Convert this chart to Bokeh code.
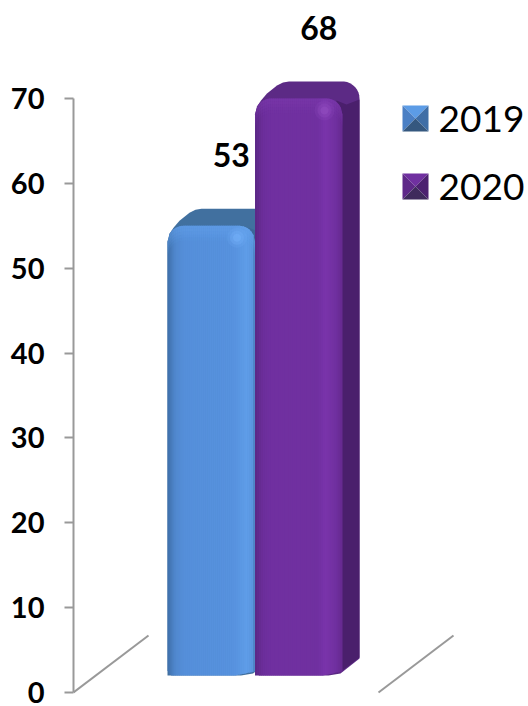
import math
from bokeh.plotting import figure
from bokeh.models import Range1d, FixedTicker
from bokeh.core.properties import value
from bokeh.embed import file_html
from bokeh.resources import INLINE

categories = ["2019", "2020"]
values = [53, 68]
y_ticks = [0, 10, 20, 30, 40, 50, 60, 70]

# colour stops: (fraction across the front face, colour)
profiles = [
    [(0, "#3f6fa9"), (0.09, "#5088cf"), (0.2, "#558fda"), (0.75, "#5792df"), (0.9, "#5f9de8"), (0.97, "#5a96e0"), (1, "#4a7cb8")],
    [(0, "#5b2885"), (0.09, "#6c2e9b"), (0.2, "#7030a0"), (0.72, "#7030a0"), (0.8, "#7a34ab"), (0.92, "#7030a0"), (1, "#66298f")],
]
top_colors = ["#41709f", "#5c2a85"]
side_colors = ["#3c6898", "#4a1f6c"]
bevel_colors = ["#66a4ee", "#7f3bb0"]
glow_colors = ["#7ab8ff", "#9a55c8"]
swatch_colors = [
    ["#5c9ce6", "#4a7fc4", "#3f6ea6", "#35587f"],
    ["#7030a0", "#5e2888", "#4c2170", "#3f2a5c"],
]

PX_X, PX_Y = 87.5, 8.486   # pixels per data unit
W, H = 528, 706
LEFT, BOTTOM = 73, 14
x0_page = 167
x_start = -(x0_page - LEFT) / PX_X
x_end = x_start + (W - LEFT) / PX_X
y_start = -BOTTOM / PX_Y
y_end = (H - BOTTOM) / PX_Y

p = figure(width=W, height=H, output_backend="svg", toolbar_location=None,
           x_range=Range1d(x_start, x_end), y_range=Range1d(y_start, y_end),
           min_border_left=LEFT, min_border_right=0, min_border_top=0, min_border_bottom=0,
           outline_line_color=None, background_fill_color="white", border_fill_color="white")
p.grid.visible = False
p.xaxis.visible = False
ax = p.yaxis[0]
ax.ticker = FixedTicker(ticks=y_ticks)
ax.bounds = (0, 70)
ax.axis_line_color = "#999999"
ax.axis_line_width = 2
ax.major_tick_line_color = "#999999"
ax.major_tick_line_width = 2
ax.major_tick_out = 9
ax.major_tick_in = 0
ax.minor_tick_line_color = None
ax.major_label_text_font = "Lato"
ax.major_label_text_font_style = "bold"
ax.major_label_text_font_size = "29px"
ax.major_label_text_color = "black"
ax.major_label_standoff = 20


def dx(px):
    return px / PX_X


def dy(px):
    return px / PX_Y


def arc(cx, cy, r, a0, a1, n=8):
    return [(cx + r * math.cos(math.radians(a0 + (a1 - a0) * k / n)),
             cy + r * math.sin(math.radians(a0 + (a1 - a0) * k / n))) for k in range(n + 1)]


def poly(pts, color):
    p.patch([dx(a) for a, b in pts], [dy(b) for a, b in pts], fill_color=color, line_color=None)


def hex2rgb(c):
    return tuple(int(c[i:i + 2], 16) for i in (1, 3, 5))


def mix(stops, t):
    for (t0, c0), (t1, c1) in zip(stops, stops[1:]):
        if t <= t1:
            f = (t - t0) / (t1 - t0)
            a, b = hex2rgb(c0), hex2rgb(c1)
            return "#%02x%02x%02x" % tuple(round(a[k] + (b[k] - a[k]) * f) for k in range(3))
    return stops[-1][1]


# drawn in pixels relative to the bar's lower-left data corner
FW, DX, DY, R, RB = PX_X, 17, 18, 16, 5
base_px = 2 * PX_Y

for i, (cat, val) in enumerate(zip(categories, values)):
    x_px = i * PX_X
    h = val * PX_Y
    b, t = base_px, base_px + h
    # top and side silhouette
    sil = [(x_px, t - R), (x_px + 2, t - 8), (x_px + 6, t - 2), (x_px + 12, t + 5),
           (x_px + 22, t + 13), (x_px + 28, t + DY - 2), (x_px + 34, t + DY - 1), (x_px + FW - 2, t + DY - 1)]
    sil += arc(x_px + FW + DX - 17, t + DY - 18, 17, 85, 0)
    sil += [(x_px + FW + DX, b + DY - 1), (x_px + FW - 2, b + 2), (x_px + FW - 14, b)]
    sil += [(x_px, b)]
    poly(sil, top_colors[i])
    side = [(x_px + FW - 6, t - 2), (x_px + FW + 4, t - 6), (x_px + FW + DX, t - 1), (x_px + FW + DX, b + DY),
            (x_px + FW, b + 5), (x_px + FW - 8, b + 2)]
    poly(side, side_colors[i])

    # front face, one thin column at a time
    n = 44
    for k in range(n):
        f0, f1 = k / n, (k + 1) / n
        xa = f0 * FW
        xb = min(f1 * FW + 0.6, FW)

        def top_at(x):
            e = t
            if x < R:
                e = t - R + math.sqrt(max(R * R - (R - x) ** 2, 0))
            if x > FW - R:
                e = t - R + math.sqrt(max(R * R - (x - FW + R) ** 2, 0))
            return e

        def bot_at(x):
            e = b
            if x < RB:
                e = b + RB - math.sqrt(max(RB * RB - (RB - x) ** 2, 0))
            if x > FW - 20:
                e = b + 4 * (x - FW + 20) / 20
            return e

        col = mix(profiles[i], (f0 + f1) / 2)
        poly([(x_px + xa, bot_at(xa)), (x_px + xb, bot_at(xb)),
              (x_px + xb, top_at(xb)), (x_px + xa, top_at(xa))], col)
        # lit bevel along the top edge
        for row, alpha in ((0, 0.45), (3, 0.4), (6, 0.3), (9, 0.2), (12, 0.1)):
            ya = top_at(xa) - row
            yb = top_at(xb) - row
            p.patch([dx(x_px + xa), dx(x_px + xb), dx(x_px + xb), dx(x_px + xa)],
                    [dy(ya - 3), dy(yb - 3), dy(yb), dy(ya)],
                    fill_color=bevel_colors[i], fill_alpha=alpha, line_color=None)
    # glow near the top right corner of the front face
    gx, gy = x_px + FW - 18, t - 12
    for r, alpha in ((10, 0.15), (7, 0.25), (4, 0.35)):
        pts = arc(gx, gy, r, 0, 360, 20)
        p.patch([dx(a) for a, c in pts], [dy(c) for a, c in pts],
                fill_color=glow_colors[i], fill_alpha=alpha, line_color=None)

# floor lines
floor_x = [0, 305 / PX_X]
p.segment(x0=[x_start + v for v in floor_x], y0=[0, 0],
          x1=[x_start + v + dx(75) for v in floor_x], y1=[dy(57), dy(57)],
          line_color="#999999", line_width=2)

# value labels
p.text(x=[i + 0.5 + dx(20) for i in range(2)], y=[v + 10.3 for v in values],
       text=[str(v) for v in values], text_font=value("Lato"), text_font_style="bold",
       text_font_size="32px", text_color="black", text_align="center", text_baseline="middle")

# legend swatches and labels
for i, cat in enumerate(categories):
    s = 26
    lx = 402 - x0_page
    ty = 692 - (105 + i * 68)
    c = (lx + s / 2, ty - s / 2)
    tl, tr, bl, br = (lx, ty), (lx + s, ty), (lx, ty - s), (lx + s, ty - s)
    for pts, col in zip([(tl, tr, c), (tl, bl, c), (tr, br, c), (bl, br, c)], swatch_colors[i]):
        poly(list(pts), col)
    p.text(x=[dx(lx + s + 10)], y=[dy(ty - s / 2)], text=[cat], text_font=value("Lato"),
           text_font_size="37px", text_color="black", text_align="left", text_baseline="middle")

open("out.html", "w").write(file_html(p, INLINE))
